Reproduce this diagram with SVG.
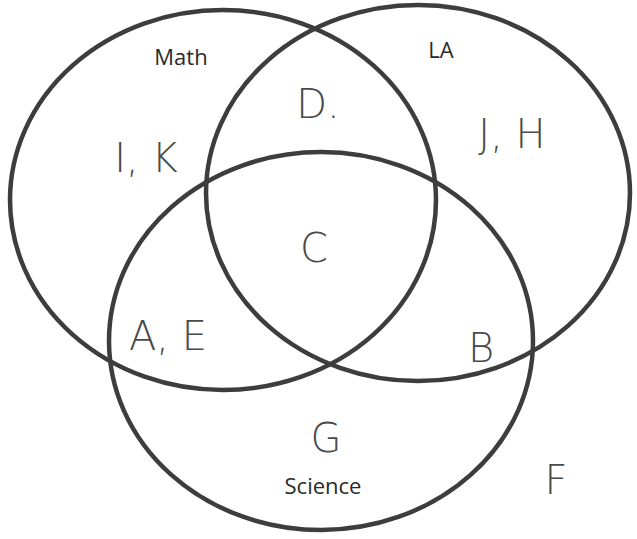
<svg xmlns="http://www.w3.org/2000/svg" width="637" height="539" viewBox="0 0 637 539">
<style>
.c{fill:none;stroke:#3d3d3d;stroke-width:4.5}
.lbl{font-family:"Open Sans","Liberation Sans",sans-serif;font-size:22px;fill:#2a2a2a;text-anchor:middle}
.h{font-family:"DejaVu Sans","Liberation Sans",sans-serif;font-weight:200;font-size:40px;fill:#4a4a4a;text-anchor:middle}
</style>
<rect width="637" height="539" fill="#ffffff"/>
<g id="math"><ellipse class="c" cx="223" cy="200" rx="213" ry="190"/><text class="lbl" x="181" y="65">Math</text></g>
<g id="la"><ellipse class="c" cx="418" cy="193" rx="212" ry="188"/><text class="lbl" x="441" y="58">LA</text></g>
<g id="science"><ellipse class="c" cx="321" cy="341" rx="212" ry="189"/><text class="lbl" x="323" y="494">Science</text></g>
<g id="labels">
<text class="h" x="146" y="172">I, K</text>
<text class="h" x="318" y="118">D.</text>
<text class="h" x="512" y="148">J, H</text>
<text class="h" x="314" y="262">C</text>
<text class="h" x="168" y="350">A, E</text>
<text class="h" x="481" y="362">B</text>
<text class="h" x="326" y="452">G</text>
<text class="h" x="556" y="494">F</text>
</g>
</svg>
